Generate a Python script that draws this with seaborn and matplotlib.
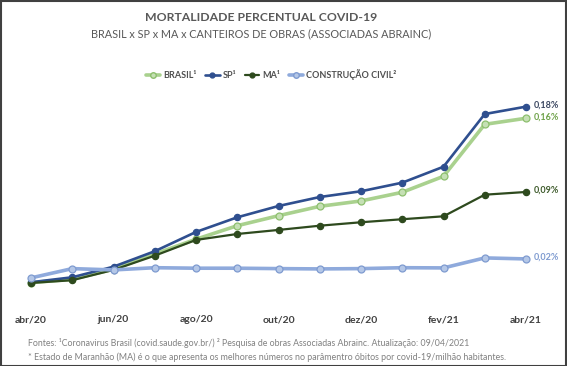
import matplotlib
matplotlib.use("Agg")
import matplotlib.pyplot as plt
from matplotlib.lines import Line2D
from matplotlib.patches import Rectangle
import seaborn as sns
import pandas as pd

sns.set_theme(style="white")
plt.rcParams['font.family'] = ['Lato', 'DejaVu Sans']

months = ["abr/20", "mai/20", "jun/20", "jul/20", "ago/20", "set/20", "out/20",
          "nov/20", "dez/20", "jan/21", "fev/21", "mar/21", "abr/21"]
tick_labels = ["abr/20", "jun/20", "ago/20", "out/20", "dez/20", "fev/21", "abr/21"]

brasil = [0.0003, 0.0037, 0.0136, 0.0287, 0.0433, 0.0567, 0.0666, 0.0759, 0.0812, 0.0898, 0.1056, 0.1571, 0.1631]
sp = [0.0007, 0.0056, 0.0161, 0.0314, 0.0505, 0.0650, 0.0762, 0.0851, 0.0908, 0.0993, 0.1151, 0.1673, 0.1746]
ma = [0.0000, 0.0027, 0.0129, 0.0270, 0.0426, 0.0485, 0.0525, 0.0567, 0.0601, 0.0631, 0.0660, 0.0874, 0.0901]
construcao = [0.0050, 0.0142, 0.0129, 0.0151, 0.0146, 0.0146, 0.0142, 0.0139, 0.0142, 0.0151, 0.0149, 0.0248, 0.0238]

end_labels = ["0,16%", "0,18%", "0,09%", "0,02%"]
series_names = ["BRASIL¹", "SP¹", "MA¹", "CONSTRUÇÃO CIVIL²"]

W, H = 567, 366
fig = plt.figure(figsize=(W / 100, H / 100), dpi=100)
fig.patch.set_facecolor("white")

ax_left, ax_right = 31, 526
ax_top, ax_bot = 101.2, 288.0
ax = fig.add_axes([ax_left / W, 1 - ax_bot / H, (ax_right - ax_left) / W, (ax_bot - ax_top) / H])

x = list(range(len(months)))
styles = [
    # data, line color, lw, marker face, marker edge, marker size, label color
    (brasil, "#A9D18E", 2.6, "#C5E0B4", "#8DBF6E", 5.0, "#6FA24A"),
    (sp, "#2F4F8F", 1.9, "#2F4F8F", "#2F4F8F", 4.5, "#3A4660"),
    (ma, "#2E4A1E", 1.6, "#2E4A1E", "#2E4A1E", 4.5, "#3D5A2A"),
    (construcao, "#8FAADC", 2.6, "#B4C7E7", "#7F9BD0", 5.0, "#7F9BD0"),
]

handles = []
for (vals, col, lw, mfc, mec, ms, lc), name, lab in zip(styles, series_names, end_labels):
    df = pd.DataFrame({"x": x, "y": vals})
    sns.lineplot(data=df, x="x", y="y", ax=ax, color=col, linewidth=lw,
                 marker="o", markersize=ms, markerfacecolor=mfc, markeredgecolor=mec,
                 markeredgewidth=0.9, clip_on=False)
    ax.annotate(lab, xy=(x[-1], vals[-1]), xytext=(5.5, 1), textcoords="offset points",
                ha="left", va="center", fontsize=6.5, color=lc, fontweight="bold")
    handles.append(Line2D([0], [0], color=col, linewidth=lw, marker="o", markersize=ms - 1,
                          markerfacecolor=mfc, markeredgecolor=mec, label=name))

ax.set_xlim(0, 12)
ax.set_ylim(-0.005, 0.18)
ax.set_xticks(x[::2])
ax.set_xticklabels(tick_labels, fontsize=7.5, fontweight="bold", color="#404040")
ax.tick_params(axis="x", length=0, pad=19.5)
ax.set_yticks([])
ax.set_xlabel("")
ax.set_ylabel("")
for s in ax.spines.values():
    s.set_visible(False)
ax.patch.set_alpha(0)

leg = fig.legend(handles=handles, loc="center", bbox_to_anchor=(0.478, 1 - 75 / H), ncol=4,
                 frameon=False, handlelength=1.6, handletextpad=0.3, columnspacing=1.0,
                 prop={"size": 6.5, "weight": "bold"})
for t in leg.get_texts():
    t.set_color("#505050")

fig.text(0.461, 1 - 17.5 / H, "MORTALIDADE PERCENTUAL COVID-19", ha="center", va="center",
         fontsize=8.8, fontweight="bold", color="#595959")
fig.text(0.461, 1 - 34 / H, "BRASIL x SP x MA x CANTEIROS DE OBRAS (ASSOCIADAS ABRAINC)",
         ha="center", va="center", fontsize=7.8, color="#595959")

fig.text(28 / W, 1 - 343 / H,
         "Fontes: ¹Coronavirus Brasil (covid.saude.gov.br/) ² Pesquisa de obras Associadas Abrainc. Atualização: 09/04/2021",
         ha="left", va="center", fontsize=6.3, color="#808080")
fig.text(28 / W, 1 - 357 / H,
         "* Estado de Maranhão (MA) é o que apresenta os melhores números no parâmentro óbitos por covid-19/milhão habitantes.",
         ha="left", va="center", fontsize=6.4, color="#808080")

fig.add_artist(Rectangle((0.5 / W, 0.5 / H), 1 - 1.5 / W, 1 - 1.5 / H, transform=fig.transFigure,
                         fill=False, edgecolor="#404040", linewidth=1.5))

fig.savefig("out.png", dpi=100, facecolor="white")
